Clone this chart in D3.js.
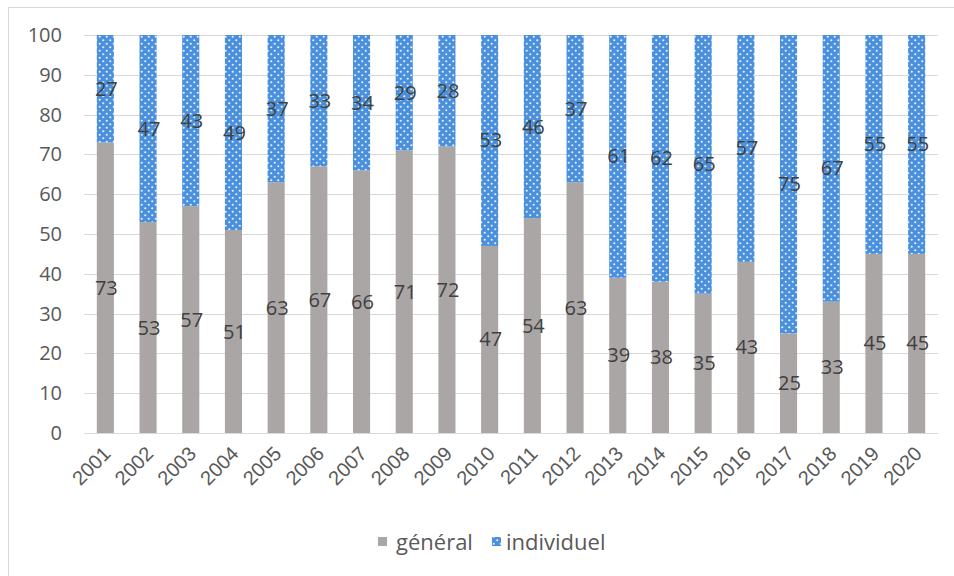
<!DOCTYPE html>
<html>
<head>
<meta charset="utf-8">
<script src="https://cdn.jsdelivr.net/npm/d3@7"></script>
<style>
  html, body { margin: 0; padding: 0; background: #fff; }
  svg { display: block; font-family: "Open Sans", "Noto Sans", sans-serif; }
</style>
</head>
<body>
<svg id="chart" width="954" height="576"></svg>
<script>
// Share of "général" vs "individuel" per year (stacked to 100)
const years = ["2001","2002","2003","2004","2005","2006","2007","2008","2009","2010",
               "2011","2012","2013","2014","2015","2016","2017","2018","2019","2020"];
const general    = [73,53,57,51,63,67,66,71,72,47,54,63,39,38,35,43,25,33,45,45];
const individuel = [27,47,43,49,37,33,34,29,28,53,46,37,61,62,65,57,75,67,55,55];
const yTicks = [0,10,20,30,40,50,60,70,80,90,100];
const seriesNames = ["général", "individuel"];

const svg = d3.select("#chart");
const W = 954, H = 576;
const margin = { left: 84, right: 16, top: 35, bottom: 143 };

// Outer chart frame
svg.append("rect")
  .attr("x", 8.5).attr("y", 7.5)
  .attr("width", W).attr("height", H)
  .attr("fill", "#fff").attr("stroke", "#d9d9d9");

// Dotted fill for the "individuel" series
const defs = svg.append("defs");
const pat = defs.append("pattern")
  .attr("id", "dots").attr("patternUnits", "userSpaceOnUse")
  .attr("width", 7).attr("height", 7);
pat.append("rect").attr("width", 7).attr("height", 7).attr("fill", "#4a90dc");
pat.append("circle").attr("cx", 1.75).attr("cy", 1.75).attr("r", 1.1).attr("fill", "#e6f0fb");
pat.append("circle").attr("cx", 5.25).attr("cy", 5.25).attr("r", 1.1).attr("fill", "#e6f0fb");

const x = d3.scaleBand()
  .domain(years)
  .range([margin.left, W - margin.right])
  .paddingInner(0.6).paddingOuter(0.3);

const y = d3.scaleLinear()
  .domain([0, 100])
  .range([H - margin.bottom, margin.top]);

// Gridlines
svg.append("g")
  .selectAll("line")
  .data(yTicks)
  .join("line")
  .attr("x1", margin.left).attr("x2", W - margin.right)
  .attr("y1", d => Math.round(y(d)) + 0.5).attr("y2", d => Math.round(y(d)) + 0.5)
  .attr("stroke", "#d9d9d9").attr("stroke-width", 1);

// Y axis labels
const yAxis = d3.axisLeft(y).tickValues(yTicks).tickSize(0).tickPadding(0);
const gy = svg.append("g")
  .attr("transform", `translate(${margin.left - 22},0)`)
  .call(yAxis);
gy.select(".domain").remove();
gy.selectAll("text")
  .attr("fill", "#595959").attr("font-size", 20)
  .attr("font-family", "'Open Sans', sans-serif");

// Stacked bars
const rows = years.map((yr, i) => ({ year: yr, "général": general[i], "individuel": individuel[i] }));
const stack = d3.stack().keys(seriesNames)(rows);
const fills = { "général": "#aaa6a5", "individuel": "url(#dots)" };

stack.forEach(layer => {
  svg.append("g")
    .selectAll("rect")
    .data(layer)
    .join("rect")
    .attr("x", d => x(d.data.year))
    .attr("width", x.bandwidth())
    .attr("y", d => y(d[1]))
    .attr("height", d => y(d[0]) - y(d[1]))
    .attr("fill", fills[layer.key]);
});

// Value labels at segment centres
stack.forEach(layer => {
  svg.append("g")
    .selectAll("text")
    .data(layer)
    .join("text")
    .attr("x", d => x(d.data.year) + x.bandwidth() / 2 + 1)
    .attr("y", d => y((d[0] + d[1]) / 2))
    .attr("dy", "0.35em")
    .attr("text-anchor", "middle")
    .attr("font-size", 20)
    .attr("fill", "#404040")
    .text(d => d.data[layer.key]);
});

// X axis
const xAxis = d3.axisBottom(x).tickSize(0).tickPadding(0);
const gx = svg.append("g")
  .attr("transform", `translate(0,${y(0)})`)
  .call(xAxis);
gx.select(".domain").remove();
gx.selectAll("text")
  .attr("fill", "#595959").attr("font-size", 20)
  .attr("text-anchor", "end")
  .attr("dy", null).attr("y", 0)
  .attr("transform", d => `translate(${x.bandwidth() / 2 - 2},22) rotate(-45)`);

// Legend
const legend = svg.append("g").attr("transform", "translate(378,542)");
const legendItems = [
  { name: seriesNames[0], fill: fills["général"], dx: 0, tx: 18 },
  { name: seriesNames[1], fill: fills["individuel"], dx: 114, tx: 14 }
];
legendItems.forEach(it => {
  const g = legend.append("g").attr("transform", `translate(${it.dx},0)`);
  g.append("rect").attr("x", 0).attr("y", -5).attr("width", 9).attr("height", 9).attr("fill", it.fill);
  g.append("text").attr("x", it.tx).attr("y", 0).attr("dy", "0.35em")
    .attr("font-size", 22).attr("fill", "#595959").text(it.name);
});
</script>
</body>
</html>
